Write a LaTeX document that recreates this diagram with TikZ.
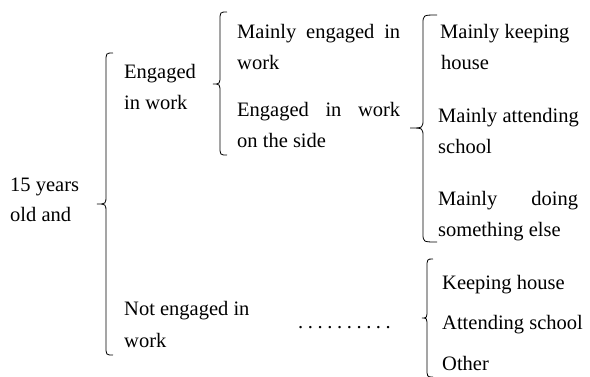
\documentclass[tikz,border=0pt]{standalone}
\usepackage{fontspec}
\setmainfont{Liberation Serif}
\newcommand{\mybrace}[6]{% #1 line x, #2 hook end x, #3 tip x, #4 top y, #5 mid y, #6 bottom y
  \draw[bracestyle] (#2,#4) .. controls (#1,#4) .. (#1,#4+9) -- (#1,#5-9)
    .. controls (#1,#5) .. (#3,#5) .. controls (#1,#5) .. (#1,#5+9)
    -- (#1,#6-9) .. controls (#1,#6) .. (#2,#6);}
\newcommand{\dotgap}{\hspace{4.6pt}}
\begin{document}
\begin{tikzpicture}[x=1pt,y=-1pt,
  lbl/.style={anchor=base west,inner sep=0pt,font=\fontsize{20.5}{31}\selectfont},
  bracestyle/.style={line width=0.8pt,black}]
\useasboundingbox (0,0) rectangle (590,376);
% level 0
\node[lbl] (a1) at (10,191) {15 years};
\node[lbl] (a2) at (10,221) {old and};
\mybrace{106}{113}{97}{53}{204}{355}
% level 1
\node[lbl] (b1) at (124,78) {Engaged};
\node[lbl] (b2) at (124,109) {in work};
\node[lbl] (c1) at (124,315) {Not engaged in};
\node[lbl] (c2) at (124,347) {work};
\mybrace{220}{227}{213}{12}{84}{155}
% level 2 upper
\node[lbl] (d1) at (237,38) {\makebox[163pt][s]{Mainly engaged in}};
\node[lbl] (d2) at (237,69) {work};
\node[lbl] (d3) at (237,116) {\makebox[163pt][s]{Engaged in work}};
\node[lbl] (d4) at (237,147) {on the side};
\mybrace{423}{437}{410}{15}{128}{242}
\node[lbl] (e1) at (440,38) {Mainly keeping};
\node[lbl] (e2) at (441,69) {house};
\node[lbl] (e3) at (438,122) {Mainly attending};
\node[lbl] (e4) at (438,153) {school};
\node[lbl] (e5) at (438,205) {\makebox[140pt][s]{Mainly doing}};
\node[lbl] (e6) at (438,236) {something else};
% lower
\node[lbl] (dots) at (298,328) {.\dotgap.\dotgap.\dotgap.\dotgap.\dotgap.\dotgap.\dotgap.\dotgap.\dotgap.};
\mybrace{427}{433}{422}{259}{318}{377}
\node[lbl] (f1) at (442,289) {Keeping house};
\node[lbl] (f2) at (442,329) {Attending school};
\node[lbl] (f3) at (442,370) {Other};
\end{tikzpicture}
\end{document}
